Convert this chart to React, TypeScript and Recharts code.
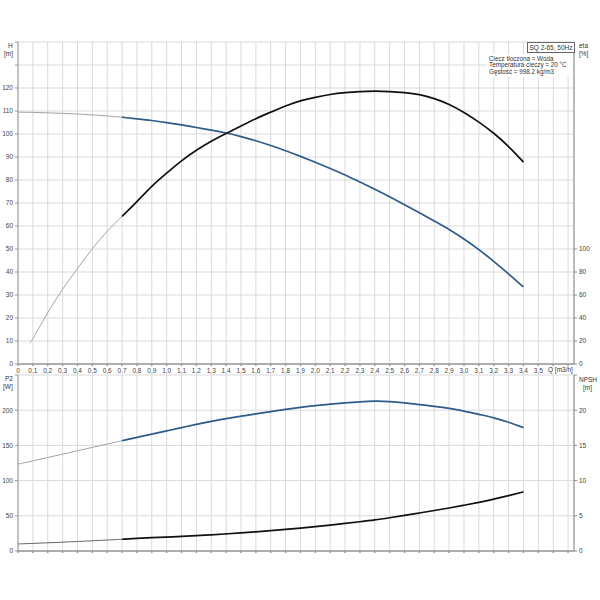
import React from 'react';
import { LineChart, Line, XAxis, YAxis, CartesianGrid } from 'recharts';

// flow rate Q [m3/h]
const Q = [
  0, 0.1, 0.2, 0.3, 0.4, 0.5, 0.6, 0.7, 0.8, 0.9, 1, 1.1, 1.2, 1.3, 1.4, 1.5, 1.6, 1.7,
  1.8, 1.9, 2, 2.1, 2.2, 2.3, 2.4, 2.5, 2.6, 2.7, 2.8, 2.9, 3, 3.1, 3.2, 3.3, 3.4,
];
// head H [m]
const H = [
  109.5, 109.4, 109.2, 109.0, 108.7, 108.3, 107.9, 107.3, 106.6, 105.9, 105.0, 104.0, 102.8,
  101.7, 100.5, 98.9, 97.1, 95.0, 92.8, 90.3, 87.7, 85.0, 82.2, 79.1, 76.0, 72.7, 69.3, 65.8,
  62.2, 58.6, 54.4, 49.8, 44.7, 39.2, 33.5,
];
// efficiency eta [%] (starts at Q = 0.08)
const ETA_START_Q = 0.08;
const ETA_START = 18;
const ETA = [
  null, 21.8, 45, 65.5, 83, 100.7, 115.7, 128.4, 141, 155, 166, 177, 186, 194, 200.5, 207,
  213.5, 219, 224.5, 229, 232, 234.5, 236, 237, 237.3, 237, 236, 234.5, 231, 226, 219, 210.5,
  201, 189.5, 175.6,
];
// power P2 [W]
const P2 = [
  123.4, 128, 132.8, 137.5, 142.3, 147.3, 152, 156.6, 161.3, 166, 170.6, 175.2, 180, 184.3,
  188.2, 191.5, 194.8, 198, 201.2, 204, 206.5, 208.5, 210.5, 212, 213, 212.5, 210.5, 208,
  205.5, 202.8, 199, 194, 189.5, 183, 175.3,
];
// NPSH [m]
const NPSH = [
  1.0, 1.08, 1.16, 1.25, 1.35, 1.45, 1.56, 1.67, 1.78, 1.9, 1.98, 2.08, 2.18, 2.3, 2.43, 2.57,
  2.72, 2.88, 3.06, 3.26, 3.46, 3.68, 3.91, 4.15, 4.4, 4.72, 5.05, 5.4, 5.75, 6.1, 6.5, 6.9,
  7.35, 7.85, 8.4,
];

const X_TICKS = [
  0, 0.1, 0.2, 0.3, 0.4, 0.5, 0.6, 0.7, 0.8, 0.9, 1, 1.1, 1.2, 1.3, 1.4, 1.5, 1.6, 1.7, 1.8,
  1.9, 2, 2.1, 2.2, 2.3, 2.4, 2.5, 2.6, 2.7, 2.8, 2.9, 3, 3.1, 3.2, 3.3, 3.4, 3.5, 3.6, 3.7,
];
const H_TICKS = [0, 10, 20, 30, 40, 50, 60, 70, 80, 90, 100, 110, 120, 130, 140];
const ETA_TICKS = [0, 20, 40, 60, 80, 100];
const P2_TICKS = [0, 50, 100, 150, 200, 250];
const NPSH_TICKS = [0, 5, 10, 15, 20, 25];

const INFO_LINES = ['Ciecz tłoczona = Woda', 'Temperatura cieczy = 20 °C', 'Gęstość = 998.2 kg/m3'];

const SPLIT = 0.7; // thin line below this flow
const BLUE = '#2d5b8a';
const BLACK = '#111';
const THIN = '#a4a4a4';
const GRID = '#d9d9d9';
const AXIS = '#999';
const tickStyle = { fontSize: 6.5, fill: '#444', fontFamily: 'Liberation Sans, Arial, sans-serif' };

const fmtQ = (v: number) => (v > 3.55 ? '' : v === 0 ? '0' : v.toFixed(1).replace('.', ','));

const topRows = [
  ...Q.map((q, i) => ({
    q,
    hThin: q <= SPLIT ? H[i] : null,
    h: q >= SPLIT ? H[i] : null,
    etaThin: q <= SPLIT ? ETA[i] : null,
    eta: q >= SPLIT ? ETA[i] : null,
  })),
  { q: ETA_START_Q, hThin: null, h: null, etaThin: ETA_START, eta: null },
].sort((a, b) => a.q - b.q);

const bottomRows = Q.map((q, i) => ({
  q,
  p2Thin: q <= SPLIT ? P2[i] : null,
  p2: q >= SPLIT ? P2[i] : null,
  npshThin: q <= SPLIT ? NPSH[i] : null,
  npsh: q >= SPLIT ? NPSH[i] : null,
}));

const label = (left: number, top: number, text: string, extra: React.CSSProperties = {}) => (
  <div style={{ position: 'absolute', left, top, fontSize: 6.5, color: '#333', lineHeight: 1, whiteSpace: 'nowrap', ...extra }}>
    {text}
  </div>
);

export default function App() {
  return (
    <div
      style={{
        position: 'fixed',
        left: 0,
        top: 0,
        width: 600,
        height: 600,
        background: '#fff',
        fontFamily: 'Liberation Sans, Arial, sans-serif',
      }}
    >
      {/* H / eta chart */}
      <div style={{ position: 'absolute', left: 0, top: 0 }}>
        <LineChart width={600} height={380} data={topRows} margin={{ top: 42, right: 0, bottom: 0, left: 0 }}>
          <CartesianGrid stroke={GRID} />
          <XAxis
            type="number"
            dataKey="q"
            domain={[0, 3.74]}
            ticks={X_TICKS}
            interval={0}
            tickFormatter={fmtQ}
            height={16}
            tick={tickStyle}
            tickSize={2}
            tickMargin={2}
            stroke={AXIS}
            strokeWidth={1.5}
            allowDataOverflow
          />
          <YAxis
            domain={[0, 140]}
            ticks={H_TICKS}
            interval={0}
            tickFormatter={(v: number) => (v <= 120 ? String(v) : '')}
            width={18}
            tick={tickStyle}
            tickSize={3}
            tickMargin={2}
            stroke={AXIS}
          />
          <YAxis
            yAxisId="eta"
            orientation="right"
            domain={[0, 280]}
            ticks={ETA_TICKS}
            interval={0}
            width={26}
            tick={tickStyle}
            tickSize={3}
            tickMargin={2}
            stroke="#888"
          />
          <Line type="basis" dataKey="hThin" stroke={THIN} strokeWidth={1} dot={false} activeDot={false} connectNulls isAnimationActive={false} />
          <Line type="basis" dataKey="h" stroke={BLUE} strokeWidth={1.7} dot={false} activeDot={false} connectNulls isAnimationActive={false} />
          <Line yAxisId="eta" type="basis" dataKey="etaThin" stroke={THIN} strokeWidth={1} dot={false} activeDot={false} connectNulls isAnimationActive={false} />
          <Line yAxisId="eta" type="basis" dataKey="eta" stroke={BLACK} strokeWidth={1.7} dot={false} activeDot={false} connectNulls isAnimationActive={false} />
        </LineChart>
      </div>

      {/* P2 / NPSH chart */}
      <div style={{ position: 'absolute', left: 0, top: 360 }}>
        <LineChart width={600} height={200} data={bottomRows} margin={{ top: 15, right: 0, bottom: 0, left: 0 }}>
          <CartesianGrid stroke={GRID} />
          <XAxis
            type="number"
            dataKey="q"
            domain={[0, 3.74]}
            ticks={X_TICKS}
            interval={0}
            tickFormatter={() => ''}
            height={9}
            tick={tickStyle}
            tickSize={2}
            stroke={AXIS}
            strokeWidth={1.5}
            allowDataOverflow
          />
          <YAxis
            domain={[0, 250]}
            ticks={P2_TICKS}
            interval={0}
            tickFormatter={(v: number) => (v < 250 ? String(v) : '')}
            width={18}
            tick={tickStyle}
            tickSize={3}
            tickMargin={2}
            stroke={AXIS}
          />
          <YAxis
            yAxisId="npsh"
            orientation="right"
            domain={[0, 25]}
            ticks={NPSH_TICKS}
            interval={0}
            tickFormatter={(v: number) => (v < 25 ? String(v) : '')}
            width={26}
            tick={tickStyle}
            tickSize={3}
            tickMargin={2}
            stroke="#888"
          />
          <Line type="basis" dataKey="p2Thin" stroke={THIN} strokeWidth={1} dot={false} activeDot={false} connectNulls isAnimationActive={false} />
          <Line type="basis" dataKey="p2" stroke={BLUE} strokeWidth={1.7} dot={false} activeDot={false} connectNulls isAnimationActive={false} />
          <Line yAxisId="npsh" type="basis" dataKey="npshThin" stroke="#666" strokeWidth={1} dot={false} activeDot={false} connectNulls isAnimationActive={false} />
          <Line yAxisId="npsh" type="basis" dataKey="npsh" stroke={BLACK} strokeWidth={1.7} dot={false} activeDot={false} connectNulls isAnimationActive={false} />
        </LineChart>
      </div>

      {/* axis titles */}
      {label(8, 43, 'H')}
      {label(4, 51, '[m]')}
      {label(579, 43, 'eta')}
      {label(579, 51, '[%]')}
      {label(548, 367, 'Q [m3/h]')}
      {label(5, 376, 'P2')}
      {label(3, 384, '[W]')}
      {label(579, 377, 'NPSH')}
      {label(583, 385, '[m]')}

      {/* pump name box */}
      <div
        style={{
          position: 'absolute',
          left: 527,
          top: 42,
          width: 46,
          height: 9,
          border: '1px solid #666',
          background: '#fff',
          fontSize: 6.5,
          lineHeight: '9px',
          textAlign: 'center',
          color: '#333',
          whiteSpace: 'nowrap',
        }}
      >
        SQ 2-65, 50Hz
      </div>

      {/* liquid info */}
      <div style={{ position: 'absolute', left: 487, top: 54, width: 86, height: 23, background: '#fff' }}>
        {INFO_LINES.map((t, i) => (
          <div key={t} style={{ position: 'absolute', left: 2, top: 2 + i * 6.4, fontSize: 6.3, lineHeight: 1, color: '#333', whiteSpace: 'nowrap' }}>
            {t}
          </div>
        ))}
      </div>
    </div>
  );
}
